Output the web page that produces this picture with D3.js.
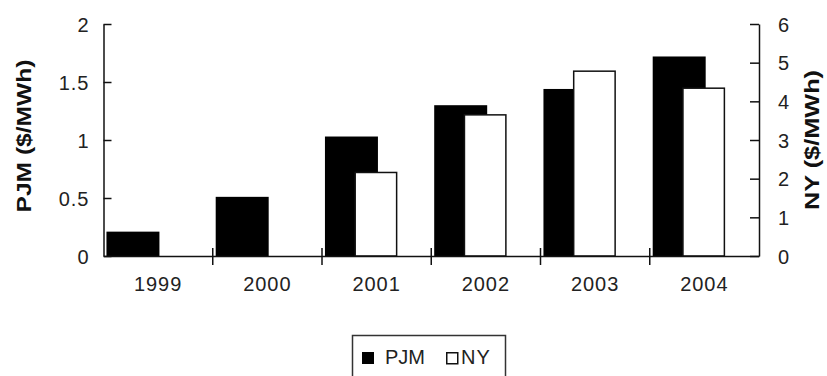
<!DOCTYPE html>
<html><head><meta charset="utf-8">
<script src="https://cdn.jsdelivr.net/npm/d3@7"></script>
<style>
body{margin:0;background:#fff;}
text{font-family:"Liberation Sans",Arial,sans-serif;}
</style></head>
<body><svg id="chart" width="827" height="376"></svg>
<script>
const years = ["1999","2000","2001","2002","2003","2004"];
const pjm = [0.21, 0.51, 1.03, 1.30, 1.44, 1.72];
const ny = [0, 0, 2.16, 3.65, 4.78, 4.34];
const leftTicks = [0, 0.5, 1, 1.5, 2];
const rightTicks = [0, 1, 2, 3, 4, 5, 6];
const seriesNames = ["PJM", "NY"];

const svg = d3.select("#chart");
const L = 103.5, R = 759, T = 24, B = 256;
const x = d3.scaleBand().domain(years).range([L, R]).paddingInner(0).paddingOuter(0);
const yL = d3.scaleLinear().domain([0, 2]).range([B, T]);
const yR = d3.scaleLinear().domain([0, 6]).range([B, T]);
const step = x.step();

// bars
svg.append("g").selectAll("rect").data(years).join("rect")
  .attr("x", (d) => x(d) + step * 0.027)
  .attr("width", step * 0.485)
  .attr("y", (d, i) => yL(pjm[i]))
  .attr("height", (d, i) => B - yL(pjm[i]))
  .attr("fill", "#000");
svg.append("g").selectAll("rect").data(years.filter((d, i) => ny[i] > 0)).join("rect")
  .attr("x", (d) => x(d) + step * 0.297 + 0.75)
  .attr("width", step * 0.393 - 1.5)
  .attr("y", (d) => yR(ny[years.indexOf(d)]))
  .attr("height", (d) => B - yR(ny[years.indexOf(d)]))
  .attr("fill", "#fff").attr("stroke", "#111").attr("stroke-width", 1.5);

// left axis
const gL = svg.append("g").attr("transform", `translate(${L},0)`)
  .call(d3.axisLeft(yL).tickValues(leftTicks).tickFormat(d3.format("")).tickSizeInner(-8).tickSizeOuter(0).tickPadding(14));
// right axis
const gR = svg.append("g").attr("transform", `translate(${R},0)`)
  .call(d3.axisRight(yR).tickValues(rightTicks).tickFormat(d3.format("d")).tickSizeInner(-9).tickSizeOuter(0).tickPadding(19));
// bottom axis
const gB = svg.append("g").attr("transform", `translate(0,${B})`)
  .call(d3.axisBottom(x).tickSize(0).tickPadding(21));
gB.selectAll(".tick line").remove();
// crossing category ticks
svg.append("g").selectAll("line").data(years.slice(1)).join("line")
  .attr("x1", (d) => x(d)).attr("x2", (d) => x(d))
  .attr("y1", B - 8).attr("y2", B + 9)
  .attr("stroke", "#111").attr("stroke-width", 1.5);

[gL, gR, gB].forEach((g) => {
  g.selectAll(".domain").attr("stroke", "#111").attr("stroke-width", 1.5);
  g.selectAll(".tick line").attr("stroke", "#111").attr("stroke-width", 1.5);
  g.selectAll("text").attr("font-size", 20).attr("fill", "#222")
    .attr("font-family", "Liberation Sans, Arial, sans-serif").style("letter-spacing", "1px");
});
gL.selectAll("text").attr("dy", "0.36em");
gR.selectAll("text").attr("dy", "0.36em");
gB.selectAll("text").attr("dy", "0.72em");

// axis titles
svg.append("text").attr("transform", "translate(31,136) rotate(-90)")
  .attr("text-anchor", "middle").attr("font-size", 20).attr("font-weight", "bold")
  .attr("textLength", 153).attr("lengthAdjust", "spacingAndGlyphs")
  .attr("fill", "#111").text("PJM ($/MWh)");
svg.append("text").attr("transform", "translate(819,140) rotate(-90)")
  .attr("text-anchor", "middle").attr("font-size", 20).attr("font-weight", "bold")
  .attr("textLength", 140).attr("lengthAdjust", "spacingAndGlyphs")
  .attr("fill", "#111").text("NY ($/MWh)");

// legend
const lg = svg.append("g");
lg.append("rect").attr("x", 352.5).attr("y", 335.5).attr("width", 153).attr("height", 60)
  .attr("fill", "none").attr("stroke", "#333").attr("stroke-width", 1.5);
lg.append("rect").attr("x", 362).attr("y", 352).attr("width", 12).attr("height", 12).attr("fill", "#000");
lg.append("text").attr("x", 385).attr("y", 364).attr("font-size", 20).attr("fill", "#222").text(seriesNames[0]);
lg.append("rect").attr("x", 446.75).attr("y", 352.75).attr("width", 11).attr("height", 11)
  .attr("fill", "#fff").attr("stroke", "#111").attr("stroke-width", 1.5);
lg.append("text").attr("x", 461).attr("y", 364).attr("font-size", 20).attr("fill", "#222")
  .style("letter-spacing", "1px").text(seriesNames[1]);
</script></body></html>
